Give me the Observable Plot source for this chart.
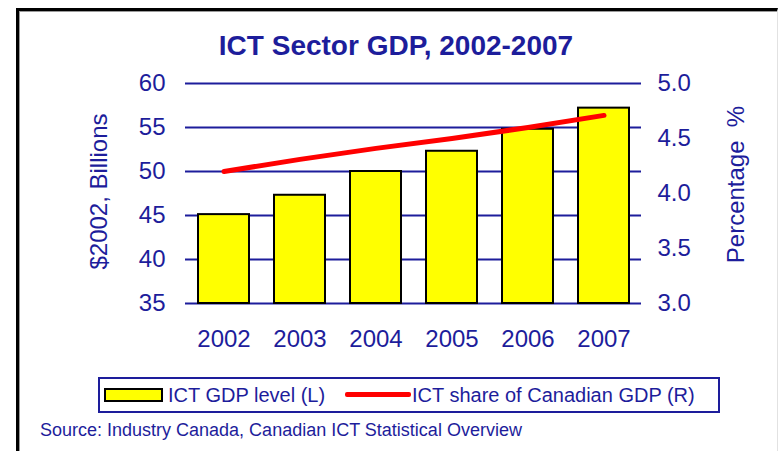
<!DOCTYPE html>
<html>
<head>
<meta charset="utf-8">
<script src="https://cdn.jsdelivr.net/npm/d3@7"></script>
<script src="https://cdn.jsdelivr.net/npm/@observablehq/plot@0.6"></script>
<style>
  html, body { margin: 0; padding: 0; background: #fff; }
  #wrap { position: relative; width: 778px; height: 451px; overflow: hidden; font-family: "Liberation Sans", Arial, sans-serif; color: #1d1d9b; }
  #frame { position: absolute; left: 16px; top: 8px; width: 758px; height: 460px; border-left: 3px solid #000; border-top: 3px solid #000; border-right: 1px solid #e2e2e2; box-shadow: inset 1px 1px 0 #9a9a9a; }
  #title { position: absolute; left: 0; width: 792px; top: 29px; text-align: center; font-size: 28px; font-weight: bold; line-height: 34px; }
  #chart { position: absolute; left: 0; top: 60px; }
  #legend { position: absolute; left: 98px; top: 377px; width: 618px; height: 32px; border: 2px solid #1d1d9b; font-size: 20px; line-height: 32px; }
  .sw { position: absolute; }
  #src { position: absolute; left: 40px; top: 420px; font-size: 18px; line-height: 20px; }
</style>
</head>
<body>
<div id="wrap">
  <div id="frame"></div>
  <div id="title">ICT Sector GDP, 2002-2007</div>
  <div id="chart"></div>
  <div id="legend">
    <div class="sw" style="left:4px; top:9px; width:55px; height:10px; background:#ffff00; border:2px solid #000;"></div>
    <div class="sw" style="left:68px; top:0;">ICT GDP level (L)</div>
    <div class="sw" style="left:245px; top:13px; width:66px; height:5px; background:#ff0000; border-radius:2px;"></div>
    <div class="sw" style="left:312px; top:0;">ICT share of Canadian GDP (R)</div>
  </div>
  <div id="src">Source: Industry Canada, Canadian ICT Statistical Overview</div>
</div>
<script>
const years = ["2002", "2003", "2004", "2005", "2006", "2007"];
const gdpLevel = [45.1, 47.3, 50.0, 52.3, 54.8, 57.2];   // $2002 billions (left axis)
const ictShare = [4.2, 4.31, 4.41, 4.5, 4.6, 4.71];       // % of Canadian GDP (right axis)
const leftTicks = [35, 40, 45, 50, 55, 60];
const rightTicks = [3.0, 3.5, 4.0, 4.5, 5.0];
const leftDomain = [35, 60];
const rightDomain = [3.0, 5.0];

const navy = "#1d1d9b";
const toLeft = v => leftDomain[0] + (v - rightDomain[0]) * (leftDomain[1] - leftDomain[0]) / (rightDomain[1] - rightDomain[0]);
const toRight = v => rightDomain[0] + (v - leftDomain[0]) * (rightDomain[1] - rightDomain[0]) / (leftDomain[1] - leftDomain[0]);

const data = years.map((y, i) => ({year: y, gdp: gdpLevel[i], share: ictShare[i]}));

const chart = Plot.plot({
  width: 778,
  height: 300,
  marginLeft: 185,
  marginRight: 137,
  marginTop: 23,
  marginBottom: 57,
  style: {fontFamily: '"Liberation Sans", Arial, sans-serif', fontSize: "24px", color: navy, background: "transparent", overflow: "visible"},
  x: {type: "band", domain: years, paddingInner: 0.33, paddingOuter: 0.165},
  y: {domain: leftDomain},
  marks: [
    Plot.gridY(leftTicks, {stroke: navy, strokeOpacity: 1, strokeWidth: 2}),
    Plot.barY(data, {x: "year", y1: leftDomain[0], y2: "gdp", fill: "#ffff00", stroke: "#000", strokeWidth: 2}),
    Plot.line(data, {x: "year", y: d => toLeft(d.share), stroke: "#ff0000", strokeWidth: 5}),
    Plot.axisY(leftTicks, {anchor: "left", tickSize: 0, tickPadding: 20, label: null, fontSize: 24}),
    Plot.axisY(rightTicks.map(toLeft), {anchor: "right", tickSize: 0, tickPadding: 16, label: null, fontSize: 24, tickFormat: d => toRight(d).toFixed(1)}),
    Plot.axisX({tickSize: 0, tickPadding: 26, label: null, fontSize: 24}),
    Plot.text(["$2002, Billions"], {frameAnchor: "left", textAnchor: "middle", dx: -86, dy: -2, rotate: -90, fontSize: 24, fill: navy}),
    Plot.text(["Percentage  %"], {frameAnchor: "right", textAnchor: "middle", dx: 95, dy: -9, rotate: -90, fontSize: 24, fill: navy})
  ]
});
document.getElementById("chart").appendChild(chart);
</script>
</body>
</html>
